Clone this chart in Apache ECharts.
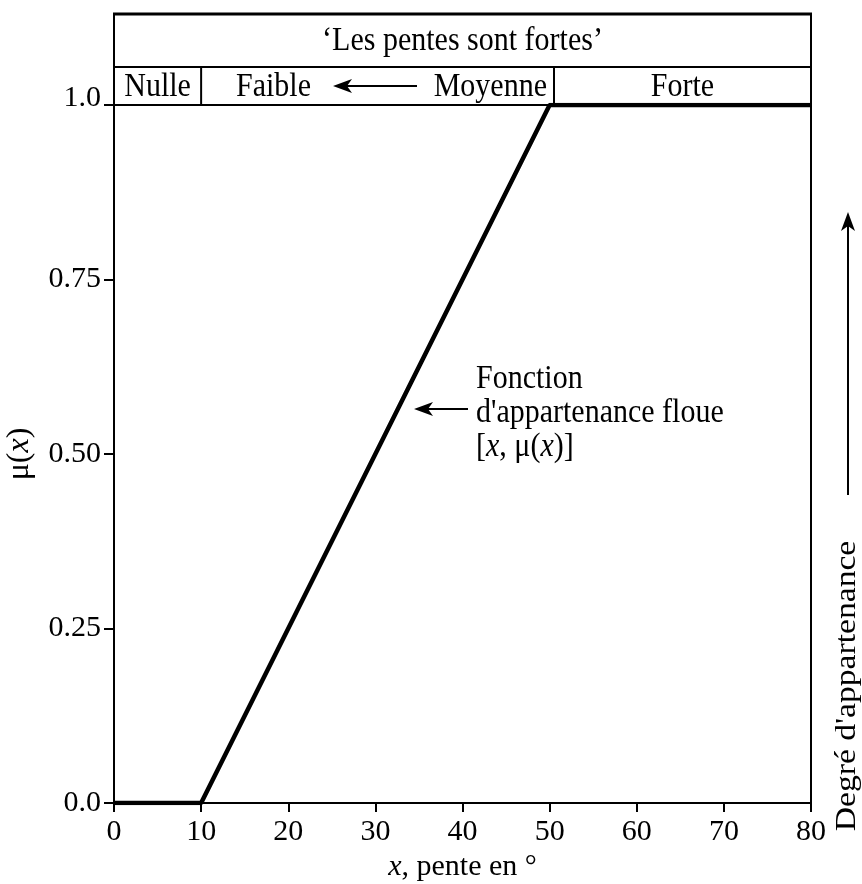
<!DOCTYPE html>
<html>
<head>
<meta charset="utf-8">
<script src="https://cdn.jsdelivr.net/npm/echarts@6/dist/echarts.min.js"></script>
<style>
html,body{margin:0;padding:0;background:#fff;}
#chart{width:862px;height:884px;}
</style>
</head>
<body>
<div id="chart"></div>
<script>
// ---- data ----
var xValues = [0, 10, 50, 80];
var muValues = [0, 0, 1, 1];
var xTicks = [0, 10, 20, 30, 40, 50, 60, 70, 80];
var yTickLabels = {0: '0.0', 0.25: '0.25', 0.5: '0.50', 0.75: '0.75', 1: '1.0'};
var headerTitle = '\u2018Les pentes sont fortes\u2019';
var headerClasses = ['Nulle', 'Faible', 'Moyenne', 'Forte'];
var headerBounds = [0, 10, 50.5, 80];
var annotationLines = ['Fonction', "d'appartenance floue", '[x, \u03bc(x)]'];
var sideLabel = "Degr\u00e9 d'appartenance";

var FONT = '"Liberation Serif", "DejaVu Serif", serif';
var FS = 30;     // text size
var STRETCH = 1.12; // reference glyphs are drawn taller than wide
var chart = echarts.init(document.getElementById('chart'));

var option = {
  animation: false,
  backgroundColor: '#fff',
  grid: {left: 114, right: 51, top: 105, bottom: 81, containLabel: false, outerBoundsMode: 'none',
    show: true, borderColor: '#000', borderWidth: 2, backgroundColor: 'transparent'},
  xAxis: {
    type: 'value', min: 0, max: 80, interval: 10,
    axisLine: {show: true, lineStyle: {color: '#000', width: 2}},
    axisTick: {show: true, length: 9, lineStyle: {color: '#000', width: 2}},
    splitLine: {show: false},
    axisLabel: {color: '#000', fontFamily: FONT, fontSize: FS, margin: 14},
    name: '{i|x}, pente en \u00b0',
    nameLocation: 'middle', nameGap: 47,
    nameTextStyle: {color: '#000', fontFamily: FONT, fontSize: FS,
      rich: {i: {fontStyle: 'italic', fontFamily: FONT, fontSize: FS, color: '#000'}}}
  },
  yAxis: {
    type: 'value', min: 0, max: 1, interval: 0.25,
    axisLine: {show: true, lineStyle: {color: '#000', width: 2}},
    axisTick: {show: true, length: 10, lineStyle: {color: '#000', width: 2}},
    splitLine: {show: false},
    axisLabel: {color: '#000', fontFamily: FONT, fontSize: FS, margin: 13,
      formatter: function (v) {
        var s = yTickLabels[v] !== undefined ? yTickLabels[v] : '';
        return v === 1 ? '{up|' + s + '}' : s;
      },
      rich: {up: {fontFamily: FONT, fontSize: FS, color: '#000', padding: [0, 0, 14, 0]}}},
    name: '\u03bc({i|x})',
    nameLocation: 'middle', nameGap: 78, nameRotate: 90,
    nameTextStyle: {color: '#000', fontFamily: FONT, fontSize: 32,
      rich: {i: {fontStyle: 'italic', fontFamily: FONT, fontSize: 32, color: '#000'}}}
  },
  series: [{
    type: 'line',
    data: xValues.map(function (x, i) { return [x, muValues[i]]; }),
    symbol: 'none',
    lineStyle: {color: '#000', width: 4.5},
    z: 5
  }]
};
chart.setOption(option);

function px(x) { return chart.convertToPixel({gridIndex: 0}, [x, 0])[0]; }
var left = px(0), right = px(80);
var yTop = 14, yMid = 67, yBot = chart.convertToPixel({gridIndex: 0}, [0, 1])[1];

function arrowLeft(x1, x2, y) { // head at x2 (left)
  return [
    {type: 'line', shape: {x1: x1, y1: y, x2: x2 + 12, y2: y}, style: {stroke: '#000', lineWidth: 2}},
    {type: 'polygon', shape: {points: [[x2, y], [x2 + 19, y - 7], [x2 + 14, y], [x2 + 19, y + 7]]}, style: {fill: '#000'}}
  ];
}
function txt(x, y, s, align, extra) {
  var st = {text: s, font: FS + 'px ' + FONT, fill: '#000', align: align, verticalAlign: 'middle'};
  if (extra) for (var k in extra) st[k] = extra[k];
  return {type: 'text', x: x, y: y, scaleY: STRETCH, style: st};
}

var g = [];
// header box
g.push({type: 'rect', shape: {x: left, y: yTop, width: right - left, height: yBot - yTop}, style: {fill: 'none', stroke: '#000', lineWidth: 2}});
g.push({type: 'line', shape: {x1: left - 1, y1: yTop, x2: right + 1, y2: yTop}, style: {stroke: '#000', lineWidth: 3}});
g.push({type: 'line', shape: {x1: left, y1: yMid, x2: right, y2: yMid}, style: {stroke: '#000', lineWidth: 2}});
[1, 2].forEach(function (i) {
  var xx = px(headerBounds[i]);
  g.push({type: 'line', shape: {x1: xx, y1: yMid, x2: xx, y2: yBot}, style: {stroke: '#000', lineWidth: 2}});
});
g.push(txt((left + right) / 2, (yTop + yMid) / 2 + 1, headerTitle, 'center'));
var rowY = (yMid + yBot) / 2 + 1;
g.push(txt((px(headerBounds[0]) + px(headerBounds[1])) / 2, rowY, headerClasses[0], 'center'));
g.push(txt(236, rowY, headerClasses[1], 'left'));
g.push(txt(px(headerBounds[2]) - 7, rowY, headerClasses[2], 'right'));
g.push(txt((px(headerBounds[2]) + px(headerBounds[3])) / 2, rowY, headerClasses[3], 'center'));
g = g.concat(arrowLeft(417, 333, 86));

// annotation
g.push(txt(476, 379, annotationLines[0], 'left'));
g.push(txt(476, 413, annotationLines[1], 'left'));
g.push(txt(476, 447, '[{i|x}, \u03bc({i|x})]', 'left',
  {rich: {i: {fontStyle: 'italic', fontFamily: FONT, fontSize: FS, fill: '#000'}}}));
g = g.concat(arrowLeft(468, 414, 409));

// side label and arrow
g.push({type: 'text', x: 847, y: 686, rotation: Math.PI / 2, scaleX: STRETCH,
  style: {text: sideLabel, font: FS + 'px ' + FONT, fill: '#000', align: 'center', verticalAlign: 'middle'}});
g.push({type: 'line', shape: {x1: 848, y1: 495, x2: 848, y2: 226}, style: {stroke: '#000', lineWidth: 2}});
g.push({type: 'polygon', shape: {points: [[848, 212], [841, 231], [848, 226], [855, 231]]}, style: {fill: '#000'}});

chart.setOption({graphic: g});
</script>
</body>
</html>
